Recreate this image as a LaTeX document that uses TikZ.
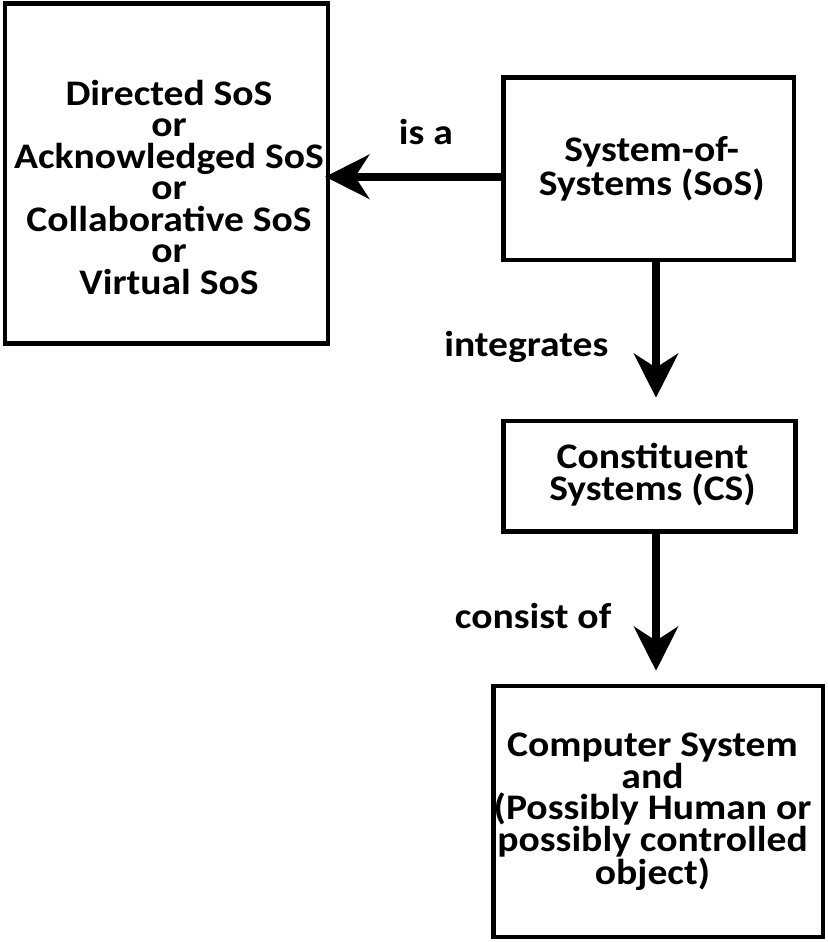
\documentclass[tikz,border=0pt]{standalone}
\usepackage{fontspec}
\setmainfont{Carlito}[FakeStretch=1.1]
\usetikzlibrary{arrows.meta,positioning}

\begin{document}
\begin{tikzpicture}[x=1pt,y=-1pt,
  box/.style={draw,line width=4.5pt,inner sep=0pt},
  txt/.style={align=center,inner sep=0pt,font=\bfseries\fontsize{36}{31.5}\selectfont},
  lbl/.style={inner sep=0pt,font=\bfseries\fontsize{36}{36}\selectfont},
  arr/.style={line width=7.5pt,-{Stealth[length=44pt,width=44pt,inset=14pt]}}]
\useasboundingbox (0,0) rectangle (827,942);
% boxes
\node[box,minimum width=323pt,minimum height=340pt] (dir) at (166.4,173.3) {};
\node[box,minimum width=290.5pt,minimum height=182.5pt] (sos) at (648.75,168.75) {};
\node[box,minimum width=292pt,minimum height=110.7pt] (cs) at (649.5,476.3) {};
\node[box,minimum width=329.3pt,minimum height=251pt] (comp) at (658.1,811.3) {};
% texts
\node[txt] (dirtext) at ([xshift=2.6pt,yshift=-13.7pt]dir.center) {Directed SoS\\or\\Acknowledged SoS\\or\\Collaborative SoS\\or\\Virtual SoS};
\node[txt] (sostext) at ([xshift=3pt]sos.center) {System-of-\\Systems (SoS)};
\node[txt] (cstext) at ([xshift=3pt,yshift=1.8pt]cs.center) {Constituent\\Systems (CS)};
\node[txt] (comptext) at ([xshift=-5.6pt,yshift=-0.7pt]comp.center) {Computer System\\and\\(Possibly Human or\\possibly controlled\\object)};
% connectors
\coordinate (isa) at ([yshift=-8pt]sos.west);
\coordinate (intg) at ([xshift=7.25pt]sos.south);
\coordinate (cons) at ([xshift=6.5pt]cs.south);
\draw[arr,shorten >=-5pt] (isa) -- node[lbl,pos=.44,above=28pt] (isalbl) {is a} (isa -| dir.east);
\draw[arr,shorten >=21pt] (intg) -- node[lbl,pos=.543,left=44pt] (intglbl) {integrates} (intg |- cs.north);
\draw[arr,shorten >=12.8pt] (cons) -- node[lbl,pos=.55,left=41pt] (conslbl) {consist of} (cons |- comp.north);
\end{tikzpicture}
\end{document}
